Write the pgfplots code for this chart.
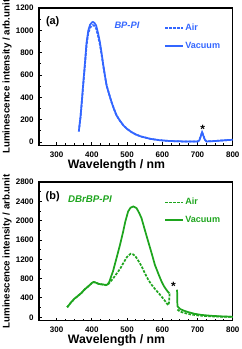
\documentclass[border=0pt]{standalone}
\usepackage{pgfplots}
\pgfplotsset{compat=1.18}
\usepackage{fontspec}
\setmainfont{Liberation Sans}
\definecolor{myblue}{RGB}{51,102,255}
\definecolor{mygreen}{RGB}{30,165,30}
\pgfplotsset{
  panel/.style={
    scale only axis,
    width=145.3pt,
    xmin=250, xmax=800,
    xtick={300,400,...,800},
    minor x tick num=3,
    minor y tick num=1,
    tick align=inside,
    xtick pos=left, ytick pos=left,
    major tick length=2.3pt, minor tick length=1.5pt,
    axis line style={line width=0.9pt},
    every tick/.style={line width=0.7pt, black},
    /pgf/number format/assume math mode=true,
    /pgf/number format/1000 sep={},
    ticklabel style={font=\fontsize{6}{6}\selectfont\bfseries},
    xticklabel style={yshift=-1.5pt},
    yticklabel style={xshift=-0.5pt},
    xlabel={Wavelength / nm},
    ylabel={Luminescence intensity / arb.unit},
    xlabel style={font=\fontsize{9.2}{10}\selectfont\bfseries, at={(axis description cs:0.40,-0.142)}, anchor=center},
    ylabel style={font=\fontsize{7.3}{8}\selectfont\bfseries, at={(axis description cs:-0.165,0.5)}, anchor=center, rotate=0},
    unbounded coords=jump,
    legend image code/.code={\draw[##1] (0pt,0pt) -- (13.5pt,0pt);},
    legend style={at={(axis description cs:0.645,0.895)}, anchor=north west, draw=none, fill=none, inner sep=0pt, row sep=5pt, legend cell align=left,
      nodes={inner sep=1pt}},
  }
}
\begin{document}
\begin{tikzpicture}
\begin{axis}[panel, at={(0pt,0pt)}, anchor=north west, height=103.1pt,
  ymin=-30, ymax=1200, ytick={0,200,...,1200},
  legend style={font=\fontsize{6.8}{7}\selectfont\bfseries\color{myblue}}]
\addplot[myblue, line width=1.3pt, dash pattern=on 2pt off 1pt] coordinates {
(363,95) (368,230) (372,375) (376,530) (380,675) (385,865) (390,975) (395,1022) (400,1042) (403,1047) (407,1040) (412,1018) (418,945) (423,870) (428,775) (433,670) (438,575) (442,506) (449,430) (456,357) (463,295) (470,240) (480,190) (490,148) (500,118) (513,89) (525,68) (540,50) (565,30) (590,18) (620,10) (660,6) (700,5) (705,15) (709,50) (713,89) (717,55) (721,20) (726,6) (750,10) (780,17) (800,21)};
\addlegendentry{Air}
\addplot[myblue, line width=1.3pt] coordinates {
(363,95) (368,230) (372,380) (376,540) (380,690) (385,890) (390,1000) (395,1050) (400,1070) (403,1075) (407,1068) (412,1045) (418,970) (423,893) (428,790) (433,680) (438,580) (442,506) (449,430) (456,357) (463,295) (470,240) (480,190) (490,148) (500,118) (513,89) (525,68) (540,50) (565,30) (590,18) (620,10) (660,6) (700,5) (705,15) (709,50) (713,89) (717,55) (721,20) (726,6) (750,10) (780,17) (800,21)};
\addlegendentry{Vacuum}
\node[font=\fontsize{8.2}{9}\selectfont\bfseries] at (axis description cs:0.0707,0.90) {(a)};
\node[font=\fontsize{7}{8}\selectfont\bfseries\itshape, text=myblue] at (axis description cs:0.454,0.876) {BP-PI};
\node[font=\fontsize{9}{9}\selectfont\bfseries] at (axis cs:715,115) {*};
\end{axis}
\begin{axis}[panel, at={(0pt,-130.5pt)}, anchor=north west, height=104pt,
  ymin=-70, ymax=2800, ytick={0,400,...,2800},
  legend style={font=\fontsize{6.8}{7}\selectfont\bfseries\color{mygreen}}]
\addplot[mygreen, line width=1.3pt, dash pattern=on 2pt off 1pt] coordinates {
(330,207) (340,300) (350,380) (360,440) (370,500) (380,580) (390,640) (400,710) (405,730) (410,720) (420,690) (430,680) (440,665) (445,670) (450,715) (460,800) (470,900) (480,1000) (490,1130) (500,1250) (510,1315) (518,1300) (525,1250) (532,1170) (541,1060) (550,920) (560,780) (570,670) (580,580) (592,480) (600,410) (607,345) (612,295) (617,250) (619,300) (621,500)
(630,nan)
(643,160) (650,120) (660,95) (680,60) (700,40) (730,22) (770,12) (800,8)};
\addlegendentry{Air}
\addplot[mygreen, line width=1.3pt] coordinates {
(330,207) (340,300) (350,380) (360,440) (370,500) (380,580) (390,640) (400,710) (405,730) (410,720) (420,690) (430,680) (440,670) (445,680) (450,740) (455,850) (460,950) (470,1223) (480,1500) (489,1776) (495,1980) (503,2190) (510,2270) (518,2294) (527,2259) (535,2150) (541,2052) (550,1820) (560,1568) (570,1320) (579,1085) (590,880) (598,739) (605,640) (612,566) (617,518) (620,500)
(630,nan)
(642,570) (643,230) (650,175) (660,140) (670,115) (690,75) (710,50) (740,30) (770,18) (800,10)};
\addlegendentry{Vacuum}
\node[font=\fontsize{8.2}{9}\selectfont\bfseries] at (axis description cs:0.0707,0.894) {(b)};
\node[font=\fontsize{7.3}{8}\selectfont\bfseries\itshape, text=mygreen] at (axis description cs:0.263,0.875) {DBrBP-PI};
\node[font=\fontsize{9}{9}\selectfont\bfseries] at (axis cs:632,640) {*};
\end{axis}
\pgfresetboundingbox
\path (-29.25pt,6pt) rectangle (152.25pt,-255.75pt);
\end{tikzpicture}
\end{document}
